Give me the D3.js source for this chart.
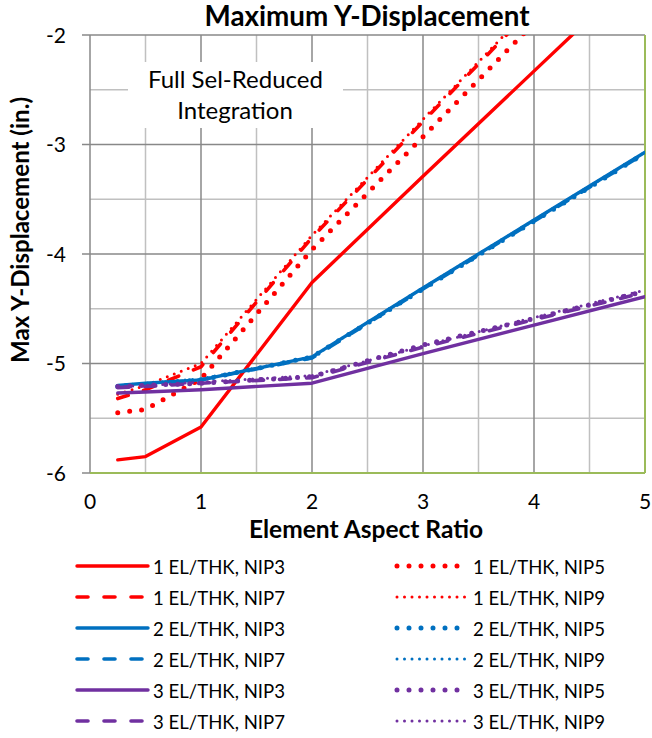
<!DOCTYPE html>
<html><head><meta charset="utf-8">
<script src="https://cdn.jsdelivr.net/npm/d3@7/dist/d3.min.js"></script>
<style>body{margin:0;background:#fff}svg{display:block}</style>
</head><body>
<svg id="chart" width="652" height="738"></svg>
<script>
// ---- data ----
const aspectRatios = [0.25, 0.5, 1, 2, 3, 4, 5];
const el1_nip3 = [-5.88, -5.85, -5.58, -4.26, -3.29, -2.33, -1.37];
const el1_nip5 = [-5.45, -5.42, -5.14, -3.96, -2.93, -1.89, -0.85];
const el1_nip7 = [-5.32, -5.24, -5.03, -3.85, -2.79, -1.74, -0.70];
const el1_nip9 = [-5.28, -5.20, -5.00, -3.83, -2.77, -1.72, -0.68];
const el2_nip3 = [-5.20, -5.18, -5.15, -4.94, -4.31, -3.69, -3.07];
const el2_nip5 = [-5.21, -5.19, -5.15, -4.94, -4.32, -3.70, -3.08];
const el2_nip7 = [-5.21, -5.19, -5.15, -4.95, -4.32, -3.70, -3.08];
const el2_nip9 = [-5.20, -5.18, -5.14, -4.94, -4.31, -3.69, -3.07];
const el3_nip3 = [-5.27, -5.26, -5.24, -5.18, -4.91, -4.65, -4.39];
const el3_nip5 = [-5.21, -5.20, -5.18, -5.12, -4.83, -4.59, -4.34];
const el3_nip7 = [-5.22, -5.21, -5.18, -5.13, -4.85, -4.60, -4.35];
const el3_nip9 = [-5.21, -5.20, -5.17, -5.11, -4.84, -4.58, -4.33];
const seriesNames = ["1 EL/THK, NIP3","1 EL/THK, NIP5","1 EL/THK, NIP7","1 EL/THK, NIP9",
                     "2 EL/THK, NIP3","2 EL/THK, NIP5","2 EL/THK, NIP7","2 EL/THK, NIP9",
                     "3 EL/THK, NIP3","3 EL/THK, NIP5","3 EL/THK, NIP7","3 EL/THK, NIP9"];
const seriesValues = [el1_nip3, el1_nip5, el1_nip7, el1_nip9, el2_nip3, el2_nip5, el2_nip7, el2_nip9,
                      el3_nip3, el3_nip5, el3_nip7, el3_nip9];
const xTicks = [0, 1, 2, 3, 4, 5];
const yTicks = [-6, -5, -4, -3, -2];
const chartTitle = "Maximum Y-Displacement";
const xTitle = "Element Aspect Ratio";
const yTitle = "Max Y-Displacement  (in.)";
const noteLines = ["Full Sel-Reduced", "Integration"];

// ---- styles ----
const colors = ["#ff0000", "#0070c0", "#7030a0"];
const styles = {
  NIP3: {w: 3.4, dash: null},
  NIP5: {w: 5, dash: "0,12"},
  NIP7: {w: 3.6, dash: "11,16"},
  NIP9: {w: 3, dash: "0,7.5"}
};
const FONT = "Lato, 'Open Sans', sans-serif";

const svg = d3.select("#chart");
const W = {l: 90, r: 645, t: 35, b: 473};
const x = d3.scaleLinear().domain([0, 5]).range([W.l, W.r]);
const y = d3.scaleLinear().domain([-6, -2]).range([W.b, W.t]);

function fit(sel, target) {
  const node = sel.node();
  const fs = parseFloat(sel.attr("font-size"));
  const len = node.getComputedTextLength();
  if (len > 0) sel.attr("font-size", (fs * target / len).toFixed(2));
  return sel;
}

// gridlines
const g = svg.append("g");
const minorX = d3.range(0.5, 5, 0.5).filter(v => v % 1 !== 0);
const majorX = [1, 2, 3, 4];
const minorY = d3.range(-5.5, -2, 0.5).filter(v => v % 1 !== 0);
const majorY = [-5, -4, -3];
g.selectAll(".mx").data(minorX).join("line")
  .attr("x1", d => x(d)).attr("x2", d => x(d)).attr("y1", W.t).attr("y2", W.b)
  .attr("stroke", "#c0c0c0").attr("stroke-width", 1.5);
g.selectAll(".my").data(minorY).join("line")
  .attr("x1", W.l).attr("x2", W.r).attr("y1", d => y(d)).attr("y2", d => y(d))
  .attr("stroke", "#c0c0c0").attr("stroke-width", 1.5);
g.selectAll(".Mx").data(majorX).join("line")
  .attr("x1", d => x(d)).attr("x2", d => x(d)).attr("y1", W.t).attr("y2", W.b)
  .attr("stroke", "#888888").attr("stroke-width", 1.5);
g.selectAll(".My").data(majorY.concat([-2])).join("line")
  .attr("x1", W.l - 8).attr("x2", W.r).attr("y1", d => y(d)).attr("y2", d => y(d))
  .attr("stroke", "#888888").attr("stroke-width", 1.5);

// note box (under lines)
svg.append("rect").attr("x", 128).attr("y", 62).attr("width", 215).attr("height", 66).attr("fill", "#fff");
const note = svg.append("g").attr("font-family", FONT).attr("fill", "#000").attr("text-anchor", "middle");
const n1 = note.append("text").attr("x", 235.5).attr("y", 88).attr("font-size", 21).text(noteLines[0]);
fit(n1, 175);
note.append("text").attr("x", 235).attr("y", 119).attr("font-size", n1.attr("font-size")).text(noteLines[1]);

// axes borders
svg.append("line").attr("x1", W.l).attr("x2", W.l).attr("y1", W.t).attr("y2", W.b)
  .attr("stroke", "#888888").attr("stroke-width", 1.5);
svg.append("line").attr("x1", W.l - 8).attr("x2", W.l).attr("y1", W.b).attr("y2", W.b)
  .attr("stroke", "#888888").attr("stroke-width", 1.5);
svg.append("line").attr("x1", W.l).attr("x2", W.r).attr("y1", W.b).attr("y2", W.b)
  .attr("stroke", "#9bbb59").attr("stroke-width", 2);
svg.append("line").attr("x1", W.r).attr("x2", W.r).attr("y1", W.t).attr("y2", W.b)
  .attr("stroke", "#9bbb59").attr("stroke-width", 2);

// series
svg.append("clipPath").attr("id", "clip").append("rect")
  .attr("x", W.l).attr("y", W.t).attr("width", W.r - W.l).attr("height", W.b - W.t);
const line = d3.line().x(d => x(d[0])).y(d => y(d[1]));
const series = seriesValues.map((vals, i) => {
  const nip = seriesNames[i].split(", ")[1];
  return {name: seriesNames[i], color: colors[Math.floor(i / 4)], st: styles[nip],
          pts: aspectRatios.map((a, j) => [a, vals[j]])};
});
const sg = svg.append("g").attr("clip-path", "url(#clip)");
sg.selectAll("path").data(series).join("path")
  .attr("d", d => line(d.pts)).attr("fill", "none")
  .attr("stroke", d => d.color).attr("stroke-width", d => d.st.w)
  .attr("stroke-dasharray", d => d.st.dash)
  .attr("stroke-linecap", "round").attr("stroke-linejoin", "round");

// tick labels
const tl = svg.append("g").attr("font-family", FONT).attr("font-size", 21).attr("fill", "#000");
tl.selectAll(".yt").data(yTicks).join("text")
  .attr("x", 66).attr("y", d => y(d) + 7.5).attr("text-anchor", "end").text(d => d);
tl.selectAll(".xt").data(xTicks).join("text")
  .attr("x", d => x(d)).attr("y", 509).attr("text-anchor", "middle").text(d => d);

// titles
const tt = svg.append("text").attr("x", 367).attr("y", 26).attr("text-anchor", "middle")
  .attr("font-family", FONT).attr("font-weight", "bold").attr("font-size", 21).text(chartTitle);
fit(tt, 325);
const xt = svg.append("text").attr("x", 366).attr("y", 538).attr("text-anchor", "middle")
  .attr("font-family", FONT).attr("font-weight", "bold").attr("font-size", 19).text(xTitle);
fit(xt, 234);
const yt = svg.append("text").attr("transform", "translate(29,230) rotate(-90)").attr("text-anchor", "middle")
  .attr("font-family", FONT).attr("font-weight", "bold").attr("font-size", 17).text(yTitle);
fit(yt, 266);

// legend
const legend = svg.append("g").attr("font-family", FONT).attr("fill", "#000");
const rowY = i => 566 + i * 31;
const items = series.map((s, i) => {
  const col = i % 2;          // NIP3/NIP7 left, NIP5/NIP9 right
  const row = Math.floor(i / 2);
  return Object.assign({col, row}, s);
});
const li = legend.selectAll("g").data(items).join("g");
li.append("line")
  .attr("x1", d => d.col ? 397 : 77).attr("x2", d => d.col ? 466 : 148)
  .attr("y1", d => rowY(d.row)).attr("y2", d => rowY(d.row))
  .attr("stroke", d => d.color).attr("stroke-width", d => d.st.w)
  .attr("stroke-dasharray", d => d.st.dash).attr("stroke-linecap", "round");
const lt = li.append("text")
  .attr("x", d => d.col ? 473 : 153).attr("y", d => rowY(d.row) + 7.5)
  .attr("font-size", 19).text(d => d.name);
const first = d3.select(lt.nodes()[0]);
fit(first, 132);
lt.attr("font-size", first.attr("font-size"));
</script>
</body></html>
